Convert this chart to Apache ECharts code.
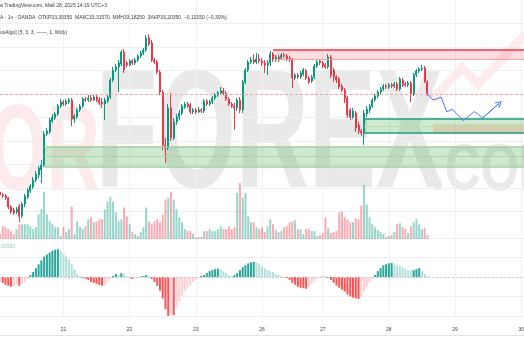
<!DOCTYPE html>
<html><head><meta charset="utf-8">
<script src="https://cdn.jsdelivr.net/npm/echarts/dist/echarts.min.js"></script>
<style>html,body{margin:0;padding:0;background:#fff}#c{width:524px;height:350px}</style>
</head><body><div id="c"></div>
<script>
// time axis: trading days and number of hourly bars in each
const dayNames = ['20','21','22','23','26','27','28','29','30'];
const barsPerDay = [23,24,24,24,22,24,24,24,2];

// hourly OHLC (XAG/USD, OANDA, 1h)
const openP = [32.366,32.340,32.332,32.315,32.238,32.213,32.196,32.247,32.162,32.264,32.323,32.374,32.409,32.468,32.511,32.553,32.596,32.860,32.877,32.970,
32.996,33.030,33.098,33.132,33.115,33.132,33.149,32.987,33.004,33.064,33.098,33.157,33.149,33.166,33.149,33.174,33.149,33.132,33.115,33.140,
33.174,33.319,33.404,33.430,33.455,33.557,33.464,33.447,33.481,33.464,33.489,33.523,33.549,33.574,33.677,33.634,33.489,33.472,33.387,33.217,
32.766,32.740,33.081,32.826,32.962,33.004,33.038,33.089,33.115,33.106,33.047,33.064,33.047,33.064,33.055,33.140,33.115,33.132,33.166,33.191,
33.209,33.226,33.209,33.157,33.115,33.098,33.081,33.149,33.064,33.302,33.404,33.472,33.489,33.472,33.498,33.481,33.464,33.447,33.464,33.540,
33.489,33.515,33.506,33.532,33.523,33.506,33.489,33.336,33.362,33.345,33.370,33.396,33.336,33.311,33.345,33.438,33.481,33.464,33.447,33.430,
33.515,33.404,33.345,33.328,33.268,33.234,33.166,33.064,33.004,33.038,32.936,32.885,32.868,33.030,33.064,33.098,33.149,33.183,33.217,33.243,
33.268,33.260,33.277,33.268,33.285,33.243,33.319,33.285,33.277,33.294,33.200,33.362,33.396,33.413,33.421,33.3035];
const closeP = [32.340,32.332,32.315,32.238,32.196,32.187,32.221,32.162,32.264,32.332,32.383,32.417,32.468,32.519,32.570,32.596,32.860,32.885,32.979,33.004,
33.030,33.098,33.132,33.115,33.140,33.149,32.987,33.013,33.064,33.098,33.157,33.149,33.166,33.149,33.174,33.149,33.123,33.115,33.149,33.174,
33.319,33.404,33.430,33.464,33.557,33.404,33.447,33.481,33.464,33.489,33.523,33.549,33.574,33.677,33.626,33.489,33.472,33.387,33.217,32.766,
32.740,33.081,32.826,32.962,33.004,33.038,33.098,33.115,33.098,33.047,33.064,33.047,33.064,33.055,33.140,33.115,33.132,33.166,33.191,33.209,
33.226,33.209,33.157,33.115,33.098,33.081,33.149,33.064,33.302,33.404,33.472,33.489,33.472,33.498,33.481,33.464,33.447,33.464,33.540,33.489,
33.515,33.489,33.532,33.523,33.498,33.489,33.336,33.362,33.345,33.379,33.404,33.336,33.302,33.345,33.438,33.472,33.464,33.438,33.430,33.515,
33.362,33.345,33.319,33.260,33.234,33.166,33.021,33.004,33.055,32.911,32.885,32.868,33.038,33.072,33.098,33.149,33.183,33.217,33.243,33.268,
33.260,33.277,33.268,33.285,33.243,33.328,33.277,33.277,33.294,33.200,33.362,33.396,33.413,33.421,33.3035,33.2035];
const lowP = [32.323,32.315,32.298,32.221,32.179,32.170,32.179,32.111,32.145,32.238,32.306,32.357,32.391,32.451,32.485,32.443,32.579,32.843,32.860,32.953,
32.979,33.013,33.081,33.098,33.098,33.115,32.928,32.953,32.987,33.047,33.081,33.132,33.132,33.132,33.140,33.132,33.106,33.081,32.979,33.123,
33.157,33.302,33.387,33.217,33.438,33.379,33.430,33.438,33.447,33.447,33.472,33.506,33.532,33.557,33.609,33.472,33.455,33.370,33.191,32.723,
32.613,32.723,32.800,32.809,32.936,32.979,33.021,33.072,33.081,33.030,33.030,33.030,33.038,33.038,33.038,33.098,33.098,33.115,33.149,33.174,
33.191,33.191,33.140,33.098,33.081,32.894,33.055,33.038,33.038,33.285,33.387,33.455,33.455,33.455,33.464,33.438,33.379,33.362,33.438,33.472,
33.472,33.472,33.489,33.506,33.481,33.472,33.251,33.319,33.328,33.328,33.353,33.319,33.285,33.294,33.328,33.421,33.447,33.421,33.413,33.413,
33.336,33.302,33.294,33.243,33.217,33.123,32.996,32.979,32.987,32.877,32.860,32.843,32.766,33.004,33.038,33.081,33.132,33.166,33.200,33.226,
33.243,33.243,33.251,33.251,33.226,33.226,33.260,33.260,33.260,33.132,33.183,33.345,33.379,33.396,33.294,33.1825];
const highP = [32.383,32.357,32.349,32.323,32.255,32.230,32.238,32.264,32.281,32.349,32.400,32.434,32.494,32.545,32.587,32.638,32.885,32.911,32.996,33.030,
33.047,33.115,33.157,33.149,33.157,33.166,33.166,33.030,33.081,33.115,33.174,33.174,33.191,33.191,33.191,33.200,33.174,33.166,33.166,33.191,
33.336,33.430,33.455,33.489,33.574,33.583,33.481,33.498,33.498,33.506,33.540,33.566,33.591,33.702,33.711,33.660,33.506,33.489,33.404,33.234,
32.826,33.115,33.209,32.996,33.030,33.064,33.115,33.132,33.132,33.123,33.081,33.081,33.089,33.081,33.157,33.157,33.149,33.183,33.209,33.226,
33.260,33.251,33.226,33.174,33.132,33.123,33.166,33.174,33.319,33.421,33.489,33.515,33.540,33.549,33.540,33.506,33.489,33.489,33.566,33.557,
33.532,33.532,33.549,33.549,33.540,33.523,33.506,33.379,33.379,33.396,33.421,33.413,33.353,33.362,33.455,33.489,33.498,33.481,33.464,33.540,
33.532,33.421,33.362,33.345,33.285,33.251,33.183,33.081,33.081,33.055,32.962,32.902,33.064,33.098,33.115,33.166,33.200,33.234,33.260,33.285,
33.285,33.294,33.294,33.302,33.302,33.345,33.336,33.302,33.311,33.311,33.379,33.413,33.430,33.447,33.438,33.3157];

// tick volume (hundreds)
const volume = [5,13,12,10,8,5,10,15,15,15,15,13,10,12,25,30,48,25,18,15,
12,12,3,12,7,10,33,5,18,12,10,13,20,22,17,18,20,20,30,38,
43,38,27,18,20,32,23,15,7,5,3,7,12,32,18,15,18,20,17,25,
40,42,48,40,30,22,17,10,8,8,5,2,2,2,8,8,10,8,8,10,
13,10,10,13,10,12,47,57,42,47,23,17,17,12,10,12,7,13,20,15,
9,7,8,12,13,17,18,19,10,10,5,10,10,8,8,3,4,6,22,11,
6,7,8,27,28,22,20,17,17,21,20,34,55,35,22,15,12,9,7,5,
2,3,4,7,15,16,12,10,6,13,17,20,15,10,11,4];

// MACD histogram
const macdHist = [-0.0125,-0.015,-0.02,-0.0225,-0.025,-0.0225,-0.02,-0.0225,-0.0175,-0.0125,-0.005,0.005,0.0125,0.0225,0.0325,0.0425,0.0525,0.0575,0.0625,0.0675,
0.07,0.0712,0.0675,0.06,0.0525,0.045,0.0325,0.02,0.0075,0.0025,-0.0025,-0.005,-0.0075,-0.0125,-0.015,-0.0175,-0.02,-0.0225,-0.02,-0.0125,
-0.005,0.0025,0.0075,0.005,0.01,0.0075,0.0025,-0.0025,-0.005,-0.0025,-0.0025,0.0012,0.0025,0.005,0.0025,-0.005,-0.0125,-0.0225,-0.035,-0.055,
-0.0825,-0.1,-0.095,-0.0975,-0.0775,-0.0625,-0.0475,-0.035,-0.0275,-0.02,-0.0125,-0.0075,-0.0025,0.0025,0.005,0.01,0.015,0.0175,0.02,0.0212,
0.02,0.015,0.01,0.005,0.0025,0.005,0.01,0.0175,0.025,0.03,0.035,0.0375,0.0387,0.0375,0.0325,0.0275,0.0225,0.0175,0.015,0.0125,
0.0075,0.005,0.0025,-0.0012,-0.0025,-0.0075,-0.015,-0.02,-0.025,-0.0275,-0.0287,-0.03,-0.025,-0.0175,-0.01,-0.005,-0.0025,0.0012,-0.0012,-0.0025,
-0.0075,-0.015,-0.0225,-0.0275,-0.0325,-0.0375,-0.045,-0.05,-0.0525,-0.055,-0.0562,-0.05,-0.0375,-0.025,-0.015,-0.005,0.005,0.015,0.0225,0.03,
0.0325,0.035,0.0362,0.0325,0.03,0.0275,0.025,0.0212,0.0175,0.0162,0.0175,0.02,0.0225,0.015,0.0075,0.0025];

const lastPrice = 33.2035;
// projected path (bar index, price)
const projIdx = [155,157,160,162,164,168,172,175,181];
const projPrice = [33.2035,33.149,33.172,33.047,33.070,32.973,33.051,32.996,33.121];
// order-block zones: start bar, top, (middle), bottom
const supplyZone = [99, 33.574, 33.498];
const demandZoneBig = [16, 32.752, 32.666, 32.583];
const demandZoneSmall = [132, 32.993, 32.922, 32.866];
const breakerZone = [157, 32.942, 32.866];

// header texts
const headerLines = [
  'а TradingView.com, Май 28, 2025 14:19 UTC+3',
  'A · 1ч · OANDA  ОТКР33,30350  МАКС33,31570  МИН33,18250  ЗАКР33,20350  −0,10150 (−0,30%)',
  'uxAlgo] (5, 3, 3, ——, 1, Wick)'
];
const macdLegend = '0,00550';

// ---------------- build ----------------
const cats = [];
dayNames.forEach((d, k) => {
  const h0 = k === 0 ? 1 : 0;
  for (let h = 0; h < barsPerDay[k]; h++) cats.push(d + '|' + (h0 + h));
});
const lastIdx = cats.length - 1;
const isDayStart = (i, v) => String(v).endsWith('|0');

const UP = '#089981', DOWN = '#f23645';
const candles = openP.map((o, i) => [o, closeP[i], lowP[i], highP[i]]);
const volData = volume.map((v, i) => ({
  value: v,
  itemStyle: { color: closeP[i] >= openP[i] ? 'rgba(8,153,129,0.42)' : 'rgba(242,54,69,0.42)' }
}));
const macdData = macdHist.map((v, i) => {
  const p = i ? macdHist[i - 1] : v;
  const col = v >= 0 ? (v >= p ? '#26a69a' : '#b2dfdb') : (v < p ? '#ff5252' : '#ffcdd2');
  return { value: v, itemStyle: { color: col } };
});

const hLine = (x0, y, color, w, type) => [
  { coord: [x0, y], lineStyle: { color: color, width: w, type: type || 'solid' } },
  { coord: [lastIdx, y] }
];

const gridLine = '#eef0f3';
const priceLineColors = [];
for (let k = 0; k <= 10; k++) priceLineColors.push(k === 0 || k === 10 ? 'rgba(0,0,0,0)' : gridLine);

const xBase = (gi, showLabel, showSplit) => ({
  type: 'category', gridIndex: gi, data: cats, boundaryGap: false,
  axisLine: { show: false }, axisTick: { show: false },
  axisLabel: {
    show: showLabel, interval: isDayStart, formatter: v => v.split('|')[0],
    fontSize: 5, color: '#444', margin: 11, fontFamily: 'Liberation Sans'
  },
  splitLine: { show: showSplit, interval: isDayStart, lineStyle: { color: gridLine, width: 1 } }
});

const chevron = 'path://M5,0 L10,8 L8.8,9 L5,2.6 L1.2,9 L0,8 Z';

const option = {
  animation: false,
  backgroundColor: '#ffffff',
  textStyle: { fontFamily: 'Liberation Sans' },
  grid: [
    { left: 0, right: 0, top: 0, height: 235, outerBoundsMode: 'none', containLabel: false },
    { left: 0, right: 0, top: 180, height: 59, outerBoundsMode: 'none', containLabel: false },
    { left: 0, right: 0, top: 238, height: 78, outerBoundsMode: 'none', containLabel: false }
  ],
  xAxis: [xBase(0, false, true), xBase(1, false, false), xBase(2, true, true)],
  yAxis: [
    { type: 'value', gridIndex: 0, min: 32, max: 34, interval: 0.2, axisLabel: { show: false },
      axisLine: { show: false }, axisTick: { show: false },
      splitLine: { show: true, lineStyle: { color: priceLineColors, width: 1 } } },
    { type: 'value', gridIndex: 1, min: 0, max: 60, show: false, splitLine: { show: false } },
    { type: 'value', gridIndex: 2, min: -0.1, max: 0.1, interval: 0.05, axisLabel: { show: false },
      axisLine: { show: false }, axisTick: { show: false },
      splitLine: { show: true, lineStyle: { color: gridLine, width: 1 } } }
  ],
  graphic: [
    { type: 'text', z: 0, silent: true, x: 100, y: 156, scaleX: 0.6,
      style: { text: 'FOR', font: 'bold 123px "Liberation Sans"', fill: '#fdeaea', textAlign: 'right', textVerticalAlign: 'middle' } },
    { type: 'text', z: 0, silent: true, x: 96, y: 141, scaleX: 0.6,
      style: { text: 'FOREX', font: 'bold 168px "Liberation Sans"', fill: '#e9e9e9', textAlign: 'left', textVerticalAlign: 'middle' } },
    { type: 'text', z: 0, silent: true, x: 431, y: 172, scaleX: 0.75,
      style: { text: '.COM', font: 'bold 66px "Liberation Sans"', fill: '#e9e9e9', textAlign: 'left', textVerticalAlign: 'middle' } },
    { type: 'polyline', z: 0, silent: true,
      shape: { points: [[432, 100], [462, 68], [478, 84], [526, 34]] },
      style: { stroke: 'rgba(242,54,69,0.10)', lineWidth: 9, fill: null } },
    { type: 'line', z: 1, silent: true, shape: { x1: 0, y1: 335.5, x2: 524, y2: 335.5 },
      style: { stroke: '#e2e4ea', lineWidth: 1 } },
    { type: 'text', z: 100, silent: true, x: 0, y: 5.5,
      style: { text: headerLines[0], font: '5px "Liberation Sans"', fill: '#3a3a3a', textAlign: 'left', textVerticalAlign: 'middle' } },
    { type: 'text', z: 100, silent: true, x: 0, y: 17.5,
      style: { text: headerLines[1], font: '5px "Liberation Sans"', fill: '#3a3a3a', textAlign: 'left', textVerticalAlign: 'middle' } },
    { type: 'text', z: 100, silent: true, x: 0, y: 32.5,
      style: { text: headerLines[2], font: '5px "Liberation Sans"', fill: '#3a3a3a', textAlign: 'left', textVerticalAlign: 'middle' } },
    { type: 'text', z: 100, silent: true, x: -3, y: 246.5,
      style: { text: macdLegend, font: '5px "Liberation Sans"', fill: '#8fd3c9', textAlign: 'left', textVerticalAlign: 'middle' } }
  ],
  series: [
    {
      type: 'candlestick', xAxisIndex: 0, yAxisIndex: 0, data: candles, barWidth: 1.5, z: 4,
      itemStyle: { color: UP, color0: DOWN, borderColor: UP, borderColor0: DOWN, borderWidth: 1 },
      markArea: {
        silent: true,
        data: [
          [{ coord: [supplyZone[0], supplyZone[1]], itemStyle: { color: 'rgba(242,54,69,0.17)' } }, { coord: [lastIdx, supplyZone[2]] }],
          [{ coord: [demandZoneBig[0], demandZoneBig[1]], itemStyle: { color: 'rgba(76,175,80,0.27)' } }, { coord: [lastIdx, demandZoneBig[3]] }],
          [{ coord: [demandZoneSmall[0], demandZoneSmall[1]], itemStyle: { color: 'rgba(76,175,80,0.27)' } }, { coord: [lastIdx, demandZoneSmall[3]] }],
          [{ coord: [breakerZone[0], breakerZone[1]], itemStyle: { color: 'rgba(225,169,126,0.42)' } }, { coord: [lastIdx, breakerZone[2]] }]
        ]
      },
      markLine: {
        silent: true, symbol: 'none', label: { show: false },
        data: [
          hLine(supplyZone[0], supplyZone[1], '#f23645', 1.5),
          hLine(supplyZone[0], supplyZone[2], '#f7a3a8', 1),
          hLine(demandZoneBig[0], demandZoneBig[1], '#9fd19f', 1.5),
          hLine(demandZoneBig[0], demandZoneBig[2], '#a9d6a9', 1),
          hLine(demandZoneBig[0], demandZoneBig[3], '#9fd19f', 1.5),
          hLine(demandZoneSmall[0], demandZoneSmall[1], '#1f9e85', 1.5),
          hLine(demandZoneSmall[0], demandZoneSmall[2], '#b6ddb6', 1),
          hLine(demandZoneSmall[0], demandZoneSmall[3], '#1f9e85', 1.5),
          { yAxis: lastPrice, lineStyle: { color: '#f5a5aa', width: 1, type: [3, 2] } }
        ]
      }
    },
    {
      type: 'line', xAxisIndex: 0, yAxisIndex: 0, z: 6, symbol: 'none',
      data: projIdx.map((x, k) => [x, projPrice[k]]),
      lineStyle: { color: '#4a7bff', width: 1 },
      markLine: {
        silent: true, symbol: ['none', chevron], symbolSize: [7, 7], label: { show: false },
        lineStyle: { color: '#4a7bff', width: 1, type: 'solid' },
        data: [[{ coord: [projIdx[7], projPrice[7]] }, { coord: [projIdx[8], projPrice[8]] }]]
      }
    },
    { type: 'bar', xAxisIndex: 1, yAxisIndex: 1, data: volData, barWidth: 2, z: 3 },
    {
      type: 'bar', xAxisIndex: 2, yAxisIndex: 2, data: macdData, barWidth: 2, z: 3,
      markLine: {
        silent: true, symbol: 'none', label: { show: false },
        data: [{ yAxis: 0, lineStyle: { color: '#c9ccd3', width: 1, type: [2, 2] } }]
      }
    }
  ]
};
const chart = echarts.init(document.getElementById('c'), null, { renderer: 'canvas' });
chart.setOption(option);
</script>
</body></html>
